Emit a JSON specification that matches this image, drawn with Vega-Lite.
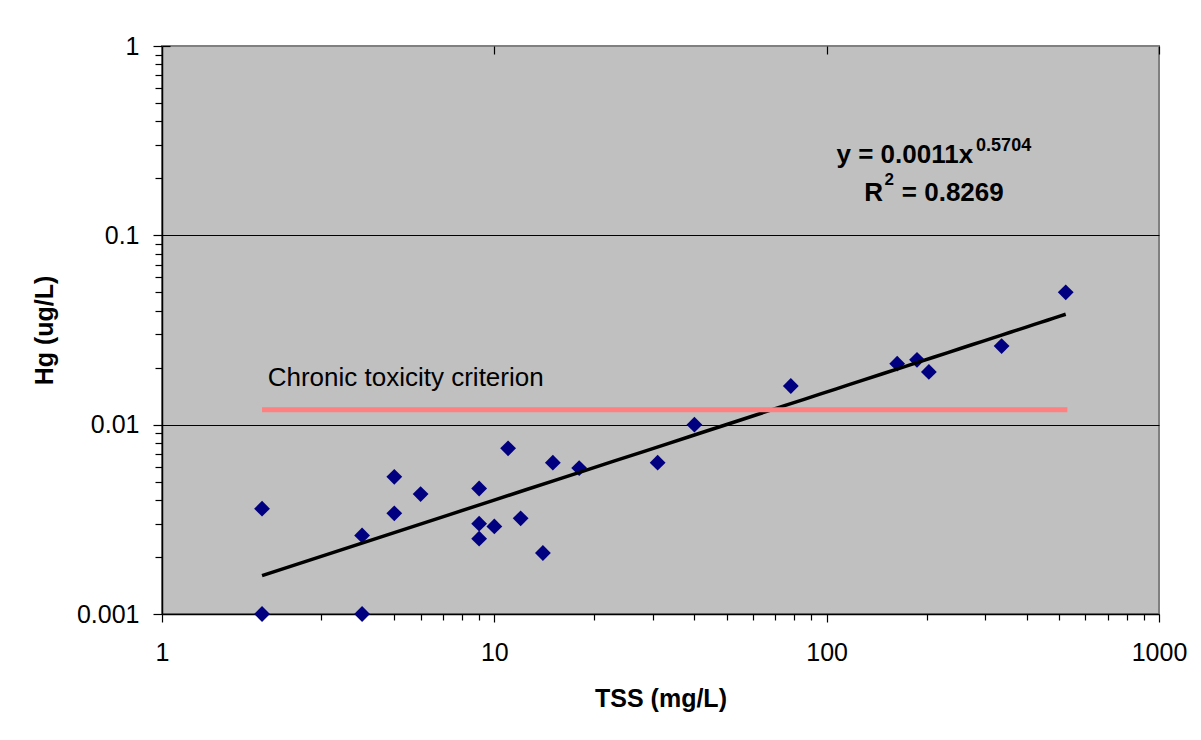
{
  "$schema": "https://vega.github.io/schema/vega-lite/v6.json",
  "width": 997,
  "height": 568,
  "autosize": "none",
  "padding": {"left": 162, "top": 46, "right": 42, "bottom": 126},
  "background": "white",
  "config": {
    "view": {"fill": "#C0C0C0", "stroke": "#808080", "strokeWidth": 2},
    "font": "Liberation Sans"
  },
  "data": {
    "values": [
      {"tss": 2, "hg": 0.0036},
      {"tss": 2, "hg": 0.001},
      {"tss": 4, "hg": 0.0026},
      {"tss": 4, "hg": 0.001},
      {"tss": 5, "hg": 0.0053},
      {"tss": 5, "hg": 0.0034},
      {"tss": 6, "hg": 0.0043},
      {"tss": 9, "hg": 0.0046},
      {"tss": 9, "hg": 0.003},
      {"tss": 9, "hg": 0.0025},
      {"tss": 10, "hg": 0.0029},
      {"tss": 11, "hg": 0.0075},
      {"tss": 12, "hg": 0.0032},
      {"tss": 14, "hg": 0.0021},
      {"tss": 15, "hg": 0.0063},
      {"tss": 18, "hg": 0.0059},
      {"tss": 31, "hg": 0.0063},
      {"tss": 40, "hg": 0.01},
      {"tss": 78, "hg": 0.016},
      {"tss": 163, "hg": 0.021},
      {"tss": 187, "hg": 0.022},
      {"tss": 203, "hg": 0.019},
      {"tss": 336, "hg": 0.026},
      {"tss": 524, "hg": 0.05}
    ]
  },
  "layer": [
    {
      "mark": {"type": "point", "shape": "diamond", "filled": true, "color": "#000080", "size": 250, "opacity": 1},
      "encoding": {
        "x": {
          "field": "tss",
          "type": "quantitative",
          "scale": {"type": "log", "domain": [1, 1000], "nice": false},
          "axis": {
            "title": "TSS (mg/L)",
            "values": [1,2,3,4,5,6,7,8,9,10,20,30,40,50,60,70,80,90,100,200,300,400,500,600,700,800,900,1000],
            "format": "~g",
            "labelExpr": "indexof([1,10,100,1000], datum.value) >= 0 ? datum.label : ''",
            "labelFlush": false,
            "labelOverlap": false,
            "labelBound": false,
            "labelFont": "Liberation Sans",
            "labelFontSize": 25,
            "labelColor": "black",
            "labelPadding": 18,
            "tickColor": "black",
            "tickWidth": 1.2,
            "tickSize": {"condition": {"test": "indexof([1,10,100,1000], datum.value) >= 0", "value": 8}, "value": 6},
            "domainColor": "black",
            "domainWidth": 1.5,
            "grid": true,
            "gridColor": "black",
            "gridWidth": 1.2,
            "gridOpacity": {"condition": {"test": "indexof([10,100,1000], datum.value) >= 0", "value": 1}, "value": 0},
            "gridDash": [8, 2000],
            "titleFont": "Liberation Sans",
            "titleFontSize": 25,
            "titleFontWeight": "bold",
            "titleColor": "black",
            "titlePadding": 21
          }
        },
        "y": {
          "field": "hg",
          "type": "quantitative",
          "scale": {"type": "log", "domain": [0.001, 1], "nice": false},
          "axis": {
            "title": "Hg (ug/L)",
            "values": [0.001,0.002,0.003,0.004,0.005,0.006,0.007,0.008,0.009,0.01,0.02,0.03,0.04,0.05,0.06,0.07,0.08,0.09,0.1,0.2,0.3,0.4,0.5,0.6,0.7,0.8,0.9,1],
            "format": "~g",
            "labelExpr": "indexof([0.001,0.01,0.1,1], datum.value) >= 0 ? datum.label : ''",
            "labelFlush": false,
            "labelOverlap": false,
            "labelBound": false,
            "labelFont": "Liberation Sans",
            "labelFontSize": 25,
            "labelColor": "black",
            "labelPadding": 14,
            "tickColor": "black",
            "tickWidth": 1.2,
            "tickSize": {"condition": {"test": "indexof([0.001,0.01,0.1,1], datum.value) >= 0", "value": 9}, "value": 7},
            "domainColor": "black",
            "domainWidth": 1.5,
            "grid": true,
            "gridColor": "black",
            "gridWidth": 1.2,
            "gridOpacity": {"condition": {"test": "indexof([0.01,0.1,1], datum.value) >= 0", "value": 1}, "value": 0},
            "gridDash": {"condition": {"test": "datum.value == 1", "value": [8, 2000]}, "value": [1, 0]},
            "titleFont": "Liberation Sans",
            "titleFontSize": 25,
            "titleFontWeight": "bold",
            "titleColor": "black",
            "titlePadding": 19
          }
        }
      }
    },
    {
      "transform": [{"regression": "hg", "on": "tss", "method": "pow"}],
      "mark": {"type": "line", "color": "black", "strokeWidth": 3.5},
      "encoding": {
        "x": {"field": "tss", "type": "quantitative"},
        "y": {"field": "hg", "type": "quantitative"}
      }
    },
    {
      "data": {"values": [{"label": "Chronic toxicity criterion"}]},
      "mark": {"type": "rule", "color": "#FF8080", "strokeWidth": 5},
      "encoding": {
        "x": {"datum": 2},
        "x2": {"datum": 530},
        "y": {"datum": 0.012}
      }
    },
    {
      "data": {"values": [{"label": "Chronic toxicity criterion"}]},
      "mark": {"type": "text", "align": "left", "baseline": "alphabetic", "fontSize": 26, "color": "black", "font": "Liberation Sans"},
      "encoding": {"x": {"datum": 2.08}, "y": {"datum": 0.016}, "text": {"field": "label"}}
    },
    {
      "data": {"values": [{"label": "y = 0.0011x"}]},
      "mark": {"type": "text", "align": "right", "baseline": "alphabetic", "fontSize": 26, "fontWeight": "bold", "color": "black", "font": "Liberation Sans"},
      "encoding": {"x": {"datum": 275.8}, "y": {"datum": 0.2409}, "text": {"field": "label"}}
    },
    {
      "data": {"values": [{"label": "0.5704"}]},
      "mark": {"type": "text", "align": "left", "baseline": "alphabetic", "fontSize": 18, "fontWeight": "bold", "color": "black", "font": "Liberation Sans"},
      "encoding": {"x": {"datum": 281.6}, "y": {"datum": 0.2788}, "text": {"field": "label"}}
    },
    {
      "data": {"values": [{"label": "R"}]},
      "mark": {"type": "text", "align": "right", "baseline": "alphabetic", "fontSize": 26, "fontWeight": "bold", "color": "black", "font": "Liberation Sans"},
      "encoding": {"x": {"datum": 147.8}, "y": {"datum": 0.1518}, "text": {"field": "label"}}
    },
    {
      "data": {"values": [{"label": "2"}]},
      "mark": {"type": "text", "align": "left", "baseline": "alphabetic", "fontSize": 17, "fontWeight": "bold", "color": "black", "font": "Liberation Sans"},
      "encoding": {"x": {"datum": 149.4}, "y": {"datum": 0.1850}, "text": {"field": "label"}}
    },
    {
      "data": {"values": [{"label": "= 0.8269"}]},
      "mark": {"type": "text", "align": "left", "baseline": "alphabetic", "fontSize": 26, "fontWeight": "bold", "color": "black", "font": "Liberation Sans"},
      "encoding": {"x": {"datum": 168.3}, "y": {"datum": 0.1518}, "text": {"field": "label"}}
    }
  ]
}
